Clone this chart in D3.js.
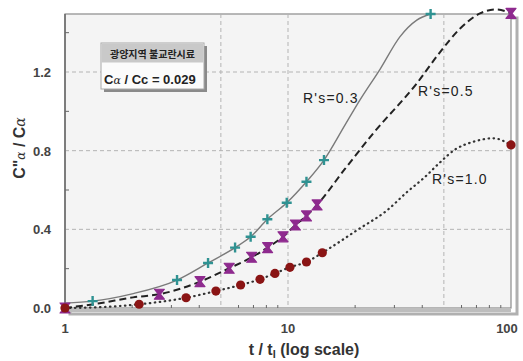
<!DOCTYPE html>
<html>
<head>
<meta charset="utf-8">
<script src="https://cdn.jsdelivr.net/npm/d3@7"></script>
<style>
  body { margin: 0; background: #fff; }
  svg text { font-family: "Liberation Sans", Arial, sans-serif; }
</style>
</head>
<body>
<div id="chart"></div>
<script>
// ---- data ----
var xTicks = [1, 10, 100];
var xTickLabels = ['1', '10', '100'];
var xGrid = [5, 10, 50];
var yTicks = [0, 0.4, 0.8, 1.2];
var yTickLabels = ['0.0', '0.4', '0.8', '1.2'];
var yMinor = [0.2, 0.6, 1.0, 1.4];

// R's = 0.3 (solid line, teal +)
var r03LineT = [1, 1.33, 2, 3.18, 4.38, 5.79, 6.8, 8.08, 9.87, 12.1, 14.5, 18, 21, 25.9, 31.8, 37.8, 43.6];
var r03LineY = [0.025, 0.035, 0.072, 0.142, 0.229, 0.307, 0.362, 0.451, 0.535, 0.642, 0.752, 0.93, 1.057, 1.215, 1.38, 1.464, 1.495];
var r03MarkT = [1.33, 3.18, 4.38, 5.79, 6.8, 8.08, 9.87, 12.1, 14.5, 43.6];
var r03MarkY = [0.035, 0.142, 0.229, 0.307, 0.362, 0.451, 0.535, 0.642, 0.752, 1.495];

// R's = 0.5 (dashed line, purple hourglass)
var r05LineT = [1, 1.43, 2.02, 2.65, 4.03, 5.45, 6.87, 8.1, 9.5, 10.8, 12.1, 13.5, 18, 24.1, 37.8, 48, 59, 72.6, 86.3, 100];
var r05LineY = [0, 0.024, 0.054, 0.07, 0.134, 0.202, 0.258, 0.307, 0.362, 0.422, 0.468, 0.524, 0.707, 0.888, 1.142, 1.3, 1.42, 1.498, 1.518, 1.498];
var r05MarkT = [1, 2.65, 4.03, 5.45, 6.87, 8.1, 9.5, 10.8, 12.1, 13.5, 100];
var r05MarkY = [0, 0.07, 0.134, 0.202, 0.258, 0.307, 0.362, 0.422, 0.468, 0.524, 1.498];

// R's = 1.0 (dotted line, red circles)
var r10LineT = [1, 1.5, 2.15, 3.49, 4.75, 6.13, 7.49, 8.74, 10.2, 12.1, 14.25, 21, 27.7, 34.2, 41.1, 48, 56, 67.7, 83.3, 100];
var r10LineY = [0, 0.005, 0.019, 0.052, 0.086, 0.117, 0.146, 0.176, 0.207, 0.234, 0.281, 0.405, 0.495, 0.59, 0.666, 0.74, 0.805, 0.845, 0.863, 0.829];
var r10MarkT = [1, 2.15, 3.49, 4.75, 6.13, 7.49, 8.74, 10.2, 12.1, 14.25, 100];
var r10MarkY = [0, 0.019, 0.052, 0.086, 0.117, 0.146, 0.176, 0.207, 0.234, 0.281, 0.829];

var width = 523, height = 361;
var plotL = 65, plotR = 511, plotT = 14, plotB = 308;

function zip(ts, ys) {
  return ts.map(function(t, i) { return { t: t, y: ys[i] }; });
}

var x = d3.scaleLog().domain([1, 100]).range([plotL, plotR]);
var y = d3.scaleLinear().domain([0, 1.5]).range([plotB, plotT - 1]);

var svg = d3.select('#chart').append('svg')
  .attr('width', width)
  .attr('height', height);

// frame shadow (3d look)
svg.append('rect')
  .attr('x', plotL + 5).attr('y', plotT + 4)
  .attr('width', plotR - plotL + 1).attr('height', plotB - plotT + 2)
  .attr('fill', 'none').attr('stroke', '#b0b0b0').attr('stroke-width', 3);

svg.append('rect')
  .attr('x', plotL).attr('y', plotT)
  .attr('width', plotR - plotL).attr('height', plotB - plotT)
  .attr('fill', '#f4f4f4').attr('stroke', '#8a8a8a').attr('stroke-width', 1.2);

// grid
var grid = svg.append('g').attr('stroke', '#b4b4b4').attr('stroke-dasharray', '4,3').attr('stroke-width', 1);
grid.selectAll('line.gx').data(xGrid).enter().append('line')
  .attr('x1', function(d) { return x(d); }).attr('x2', function(d) { return x(d); })
  .attr('y1', plotT).attr('y2', plotB);
grid.selectAll('line.gy').data(yTicks.slice(1)).enter().append('line')
  .attr('x1', plotL).attr('x2', plotR)
  .attr('y1', function(d) { return y(d); }).attr('y2', function(d) { return y(d); });

// minor ticks
var minorX = x.ticks().filter(function(d) { return d > 1 && d < 100 && xGrid.indexOf(d) < 0; });
svg.append('g').selectAll('line').data(minorX).enter().append('line')
  .attr('x1', function(d) { return x(d); }).attr('x2', function(d) { return x(d); })
  .attr('y1', plotB).attr('y2', plotB - 3)
  .attr('stroke', '#666').attr('stroke-width', 1);
svg.append('g').selectAll('line').data(yMinor).enter().append('line')
  .attr('x1', plotL).attr('x2', plotL + 4)
  .attr('y1', function(d) { return y(d); }).attr('y2', function(d) { return y(d); })
  .attr('stroke', '#666').attr('stroke-width', 1);

// axis lines
svg.append('line').attr('x1', plotL).attr('x2', plotL).attr('y1', plotT).attr('y2', plotB + 1)
  .attr('stroke', '#6a6a6a').attr('stroke-width', 1.5);
svg.append('line').attr('x1', plotL).attr('x2', plotR).attr('y1', plotB + 2).attr('y2', plotB + 2)
  .attr('stroke', '#bdbdbd').attr('stroke-width', 4);

// tick labels
svg.append('g').selectAll('text').data(xTicks).enter().append('text')
  .attr('x', function(d, i) { return i === 2 ? x(d) - 4 : x(d); })
  .attr('y', 333)
  .attr('text-anchor', 'middle')
  .attr('font-size', 13).attr('font-weight', 'bold').attr('fill', '#444')
  .text(function(d, i) { return xTickLabels[i]; });

svg.append('g').selectAll('text').data(yTicks).enter().append('text')
  .attr('x', 51)
  .attr('y', function(d) { return y(d) + 5; })
  .attr('text-anchor', 'end')
  .attr('font-size', 13).attr('font-weight', 'bold').attr('fill', '#444')
  .text(function(d, i) { return yTickLabels[i]; });

// axis titles
var xt = svg.append('text').attr('x', 304).attr('y', 355)
  .attr('text-anchor', 'middle').attr('font-size', 16).attr('font-weight', 'bold').attr('fill', '#333');
xt.append('tspan').text('t / t');
xt.append('tspan').attr('font-size', 11).attr('dy', 3).text('l');
xt.append('tspan').attr('dy', -3).text(' (log scale)');

var yt = svg.append('text').attr('transform', 'translate(25,148) rotate(-90)')
  .attr('text-anchor', 'middle').attr('font-size', 16).attr('font-weight', 'bold').attr('fill', '#333');
yt.append('tspan').text('C"');
yt.append('tspan').attr('font-family', 'DejaVu Serif').attr('font-style', 'italic').attr('font-weight', 'normal').attr('font-size', 12).text('α');
yt.append('tspan').text('   / C');
yt.append('tspan').attr('font-family', 'DejaVu Serif').attr('font-style', 'italic').attr('font-weight', 'normal').attr('font-size', 14).text('α');

// curves
var line = d3.line()
  .x(function(d) { return x(d.t); })
  .y(function(d) { return y(d.y); })
  .curve(d3.curveMonotoneX);

svg.append('path').datum(zip(r10LineT, r10LineY))
  .attr('d', line).attr('fill', 'none')
  .attr('stroke', '#333').attr('stroke-width', 2.2)
  .attr('stroke-dasharray', '0.5,4.5').attr('stroke-linecap', 'round');

svg.append('path').datum(zip(r05LineT, r05LineY))
  .attr('d', line).attr('fill', 'none')
  .attr('stroke', '#222').attr('stroke-width', 2)
  .attr('stroke-dasharray', '7,4');

svg.append('path').datum(zip(r03LineT, r03LineY))
  .attr('d', line).attr('fill', 'none')
  .attr('stroke', '#7a7a7a').attr('stroke-width', 1.4);

// markers
svg.append('g').selectAll('path').data(zip(r03MarkT, r03MarkY)).enter().append('path')
  .attr('transform', function(d) { return 'translate(' + x(d.t) + ',' + y(d.y) + ')'; })
  .attr('d', 'M-5,0L5,0M0,-5L0,5')
  .attr('stroke', '#2f9292').attr('stroke-width', 2.4).attr('fill', 'none');

svg.append('g').selectAll('path').data(zip(r05MarkT, r05MarkY)).enter().append('path')
  .attr('transform', function(d) { return 'translate(' + x(d.t) + ',' + y(d.y) + ')'; })
  .attr('d', 'M-5,-5L5,-5L1,0L5,5L-5,5L-1,0Z')
  .attr('fill', '#8e2a8e').attr('stroke', '#8e2a8e').attr('stroke-width', 1.2)
  .attr('stroke-linejoin', 'round');

svg.append('g').selectAll('circle').data(zip(r10MarkT, r10MarkY)).enter().append('circle')
  .attr('cx', function(d) { return x(d.t); })
  .attr('cy', function(d) { return y(d.y); })
  .attr('r', 4.6)
  .attr('fill', '#8a1414');

// curve labels
var lab = svg.append('g').attr('font-size', 14).attr('fill', '#222').attr('letter-spacing', 1.2);
lab.append('text').attr('x', 303).attr('y', 103).text("R's=0.3");
lab.append('text').attr('x', 418).attr('y', 96).text("R's=0.5");
lab.append('text').attr('x', 432).attr('y', 184).text("R's=1.0");

// info box
var box = svg.append('g');
box.append('rect').attr('x', 104).attr('y', 46).attr('width', 103).attr('height', 46).attr('fill', '#8a8a8a');
box.append('rect').attr('x', 101).attr('y', 43).attr('width', 103).attr('height', 46)
  .attr('fill', '#fbfbfb').attr('stroke', '#a8a8a8');
box.append('rect').attr('x', 101.5).attr('y', 43.5).attr('width', 102).attr('height', 19).attr('fill', '#c9c9c9');
box.append('text').attr('x', 152.5).attr('y', 57.5).attr('text-anchor', 'middle')
  .attr('font-size', 10).attr('font-weight', 'bold').attr('fill', '#222')
  .style('font-family', '"Noto Sans CJK KR", sans-serif')
  .text('광양지역 불교란시료');
var bt = box.append('text').attr('x', 104).attr('y', 84)
  .attr('font-size', 13).attr('font-weight', 'bold').attr('fill', '#222');
bt.append('tspan').text('C');
bt.append('tspan').attr('font-family', 'DejaVu Serif').attr('font-style', 'italic').attr('font-weight', 'normal').attr('font-size', 11).text('α');
bt.append('tspan').text('  / Cc = 0.029');
</script>
</body>
</html>
